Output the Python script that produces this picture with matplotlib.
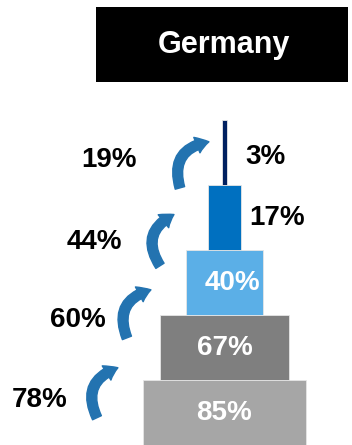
#!/usr/bin/env python3
"""Stacked funnel of survival shares for Germany, with step-to-step conversion arrows."""

import matplotlib

matplotlib.use("Agg")
import matplotlib.pyplot as plt
from matplotlib.patches import FancyArrowPatch, Rectangle

plt.rcParams["font.family"] = ["Liberation Sans", "DejaVu Sans"]

TITLE = "Germany"

# funnel levels, bottom to top
share_pct = [85, 67, 40, 17, 3]
share_labels = ["85%", "67%", "40%", "17%", "3%"]
bar_colors = ["#A6A6A6", "#7F7F7F", "#5BAFE7", "#0070C0", "#002060"]

# conversion between consecutive levels, bottom to top
step_labels = ["78%", "60%", "44%", "19%"]

ARROW_COLOR = "#2373B0"


def main() -> None:
    fig = plt.figure(figsize=(3.52, 4.45), dpi=100)
    ax = fig.add_axes([0, 0, 1, 1])
    ax.set_xlim(-116.9, 66.4)
    ax.set_ylim(-0.5, 6.354)
    ax.axis("off")

    levels = list(range(len(share_pct)))
    ax.barh(
        levels,
        share_pct,
        left=[-v / 2 for v in share_pct],
        height=1.0,
        color=bar_colors,
        edgecolor="#E6E6E6",
        linewidth=0.6,
    )

    # values inside the wide bars, outside the narrow ones
    label_pos = [
        (0, 0, "center", "white"),
        (0, 1, "center", "white"),
        (4, 2, "center", "white"),
        (13.0, 3.0, "left", "black"),
        (10.7, 3.94, "left", "black"),
    ]
    for (x, y, ha, col), txt in zip(label_pos, share_labels):
        ax.text(x, y, txt, ha=ha, va="center", color=col,
                fontsize=20, fontweight="bold")

    # curved arrows on the left, one per step up the funnel
    arrow_ends = [
        ((-66.4, -0.08), (-55.5, 0.69)),
        ((-50.8, 1.15), (-38.3, 1.89)),
        ((-33.6, 2.26), (-26.3, 3.05)),
        ((-23.2, 3.46), (-8.1, 4.17)),
    ]
    step_text_pos = [(-96.1, 0.2), (-76.3, 1.43), (-68.0, 2.63), (-60.2, 3.89)]
    for (a, b), (tx, ty), txt in zip(arrow_ends, step_text_pos, step_labels):
        arr = FancyArrowPatch(
            a, b,
            connectionstyle="arc3,rad=-0.55",
            arrowstyle="simple,head_width=12,head_length=9,tail_width=7",
            color=ARROW_COLOR,
            shrinkA=0, shrinkB=0,
            mutation_scale=1,
        )
        ax.add_patch(arr)
        ax.text(tx, ty, txt, ha="center", va="center", color="black",
                fontsize=20, fontweight="bold")

    fig.patches.append(
        Rectangle((96 / 352, 1 - 82 / 445), 252 / 352, 75 / 445,
                  transform=fig.transFigure, facecolor="black", edgecolor="none")
    )
    fig.text(224 / 352, 1 - 45 / 445, TITLE, ha="center", va="center",
             color="white", fontsize=22, fontweight="bold")

    fig.savefig("out.png", dpi=100)


if __name__ == "__main__":
    main()
